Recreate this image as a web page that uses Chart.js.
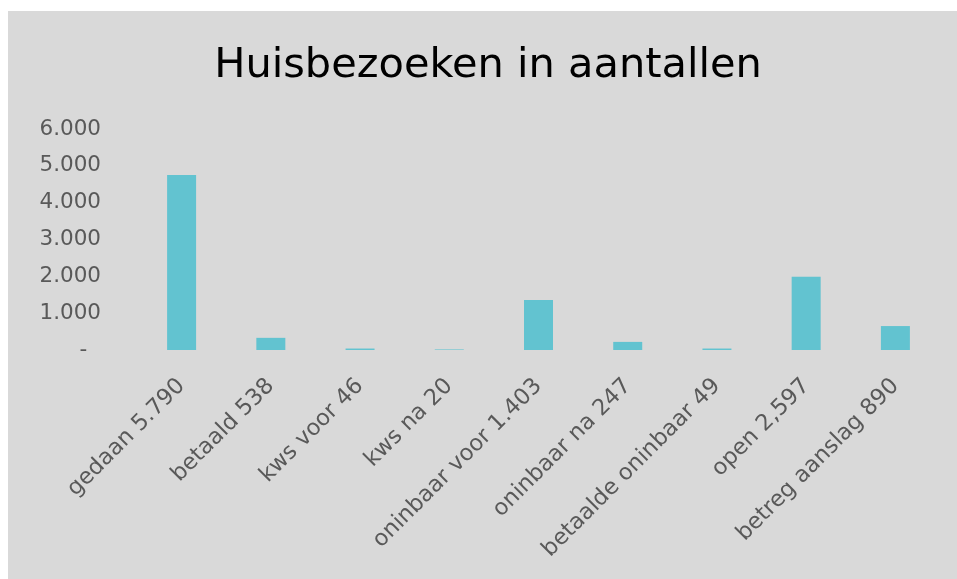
<!DOCTYPE html>
<html>
<head>
<meta charset="utf-8">
<script src="https://cdn.jsdelivr.net/npm/chart.js@4"></script>
<style>
    html, body { margin: 0; padding: 0; background: #ffffff; }
    #panel {
        position: absolute;
        left: 8px;
        top: 11px;
        width: 949px;
        height: 568px;
        background: #d9d9d9;
    }
</style>
</head>
<body>
<div id="panel"><canvas id="visitsChart" width="949" height="568"></canvas></div>
<script>
// Data
const categories = [
    'gedaan 5.790',
    'betaald 538',
    'kws voor 46',
    'kws na 20',
    'oninbaar voor 1.403',
    'oninbaar na 247',
    'betaalde oninbaar 49',
    'open 2,597',
    'betreg aanslag 890'
];
const visits = [4750, 330, 40, 15, 1360, 220, 40, 1990, 650];
const yTicks = [0, 1000, 2000, 3000, 4000, 5000, 6000];

const titleText = 'Huisbezoeken in aantallen';
const textColor = '#595959';

function formatThousands(value) {
    // zero shows as a dash, like the accounting format
    if (value === 0) return '-  ';
    return String(value).replace(/\B(?=(\d{3})+(?!\d))/g, '.');
}

// Title sits a bit right of the canvas centre in the original
const titlePlugin = {
    id: 'offsetTitle',
    afterDraw: function(chart) {
        const c = chart.ctx;
        c.save();
        c.font = 'normal 41.5px "DejaVu Sans"';
        c.fillStyle = '#000000';
        c.textAlign = 'center';
        c.textBaseline = 'alphabetic';
        c.fillText(titleText, 480, 66);
        c.restore();
    }
};

document.addEventListener('DOMContentLoaded', function() {
    const ctx = document.getElementById('visitsChart').getContext('2d');

    new Chart(ctx, {
        type: 'bar',
        data: {
            labels: categories,
            datasets: [{
                label: 'Huisbezoeken',
                data: visits,
                backgroundColor: '#62c3d0',
                borderWidth: 0,
                barPercentage: 0.325,
                categoryPercentage: 1.0
            }]
        },
        plugins: [titlePlugin],
        options: {
            responsive: false,
            animation: false,
            layout: {
                padding: { left: 0, right: 17, top: 118, bottom: 0 }
            },
            plugins: {
                legend: { display: false },
                tooltip: { enabled: false },
                title: { display: false }
            },
            scales: {
                x: {
                    grid: { display: false, drawTicks: false },
                    border: { display: false },
                    ticks: {
                        color: textColor,
                        font: { family: 'DejaVu Sans', size: 22.5 },
                        minRotation: 45,
                        maxRotation: 45,
                        padding: 23
                    },
                    afterFit: function(scale) {
                        scale.height = 229;
                    }
                },
                y: {
                    min: 0,
                    max: 6000,
                    grid: { display: false, drawTicks: false },
                    border: { display: false },
                    afterBuildTicks: function(scale) {
                        scale.ticks = yTicks.map(v => ({ value: v }));
                    },
                    ticks: {
                        color: textColor,
                        font: { family: 'DejaVu Sans', size: 21.5 },
                        padding: 36,
                        callback: function(value) {
                            return formatThousands(value);
                        }
                    },
                    afterFit: function(scale) {
                        scale.width = 129;
                    }
                }
            }
        }
    });
});
</script>
</body>
</html>
